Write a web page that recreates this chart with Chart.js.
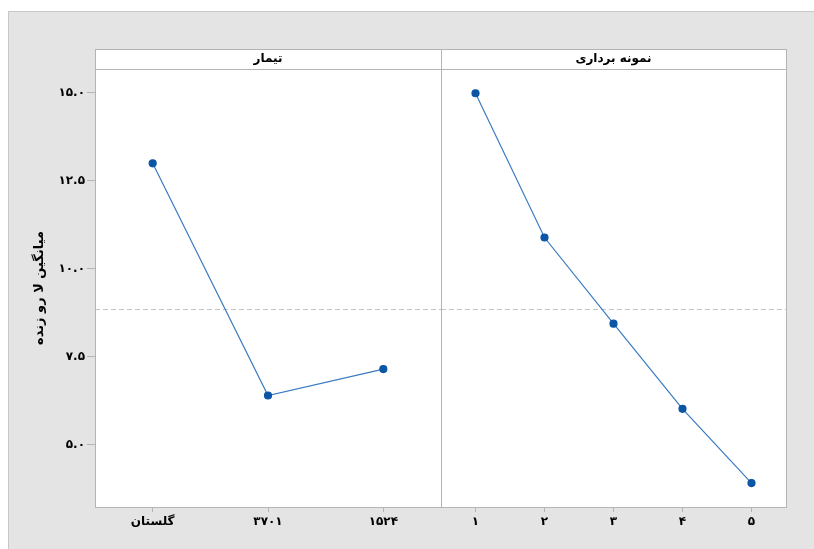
<!DOCTYPE html>
<html>
<head>
<meta charset="utf-8">
<script src="https://cdn.jsdelivr.net/npm/chart.js@4.4.1/dist/chart.umd.min.js"></script>
<style>
    body { margin: 0; background: #ffffff; width: 814px; height: 549px; overflow: hidden; position: relative; }
    #frame { position: absolute; left: 8px; top: 11px; width: 806px; height: 538px; background: #e4e4e4; border-top: 1px solid #c8c8c8; border-left: 1px solid #c8c8c8; box-sizing: border-box; }
    canvas { position: absolute; top: 0; }
    #chartTreatment { left: 0; }
    #chartSampling { left: 440px; }
</style>
</head>
<body>
<div id="frame"></div>
<canvas id="chartTreatment" width="442" height="549"></canvas>
<canvas id="chartSampling" width="374" height="549"></canvas>
<script>
const treatments = ['گلستان', '۳۷۰۱', '۱۵۲۴'];
const treatmentMeans = [12.99, 6.39, 7.14];
const samplings = ['۱', '۲', '۳', '۴', '۵'];
const samplingMeans = [14.98, 10.88, 8.43, 6.01, 3.90];
const grandMean = 8.84;
const yTicks = [5, 7.5, 10, 12.5, 15];
const yTickLabels = ['۵.۰', '۷.۵', '۱۰.۰', '۱۲.۵', '۱۵.۰'];
const yMin = 3.22;
const yMax = 15.67;

const fontFamily = "'DejaVu Sans', sans-serif";
const lineColor = '#3a7bc2';
const pointColor = '#0a55a5';
const frameColor = '#b4b4b4';
const stripHeight = 20;

// white panel, strip header, border and dashed grand mean line
const panelFrame = {
    id: 'panelFrame',
    beforeDraw(chart) {
        const { ctx, chartArea: a } = chart;
        ctx.save();
        ctx.fillStyle = '#ffffff';
        ctx.fillRect(a.left, a.top - stripHeight, a.right - a.left, a.bottom - a.top + stripHeight);
        ctx.restore();
    },
    beforeDatasetsDraw(chart) {
        const { ctx, chartArea: a, scales } = chart;
        const y = Math.round(scales.y.getPixelForValue(grandMean)) + 0.5;
        ctx.save();
        ctx.strokeStyle = '#c4c4c4';
        ctx.lineWidth = 1;
        ctx.setLineDash([5, 3]);
        ctx.beginPath();
        ctx.moveTo(a.left, y);
        ctx.lineTo(a.right, y);
        ctx.stroke();
        ctx.restore();
    },
    afterDraw(chart, args, opts) {
        const { ctx, chartArea: a } = chart;
        const l = Math.round(a.left) + 0.5, r = Math.round(a.right) + 0.5;
        const t = Math.round(a.top) + 0.5, b = Math.round(a.bottom) + 0.5;
        ctx.save();
        ctx.strokeStyle = frameColor;
        ctx.lineWidth = 1;
        ctx.strokeRect(l, t - stripHeight, r - l, b - t + stripHeight);
        ctx.beginPath();
        ctx.moveTo(l, t);
        ctx.lineTo(r, t);
        ctx.stroke();
        ctx.fillStyle = '#000000';
        ctx.font = 'bold 12px ' + fontFamily;
        ctx.textAlign = 'center';
        ctx.textBaseline = 'middle';
        ctx.fillText(opts.label, (a.left + a.right) / 2, a.top - stripHeight / 2);
        ctx.restore();
    }
};

function createPanel(canvasId, label, categories, values, padding, showY) {
    const ctx = document.getElementById(canvasId).getContext('2d');
    return new Chart(ctx, {
        type: 'line',
        data: {
            labels: categories,
            datasets: [{
                data: values,
                borderColor: lineColor,
                borderWidth: 1.2,
                pointBackgroundColor: pointColor,
                pointBorderColor: pointColor,
                pointRadius: 3.5,
                tension: 0
            }]
        },
        options: {
            responsive: false,
            animation: false,
            layout: { padding: padding, autoPadding: false },
            plugins: {
                legend: { display: false },
                tooltip: { enabled: false },
                panelFrame: { label: label }
            },
            scales: {
                x: {
                    offset: true,
                    grid: { display: true, drawOnChartArea: false, drawTicks: true, tickLength: 5, color: frameColor },
                    border: { display: false },
                    ticks: { color: '#000000', padding: 3, maxRotation: 0, font: { family: fontFamily, size: 12, weight: 'bold' } },
                    afterFit(scale) { scale.height = 35; }
                },
                y: {
                    display: showY,
                    min: yMin,
                    max: yMax,
                    grid: { display: true, drawOnChartArea: false, drawTicks: true, tickLength: 8, color: frameColor },
                    border: { display: false },
                    afterBuildTicks(scale) { scale.ticks = yTicks.map(v => ({ value: v })); },
                    ticks: {
                        color: '#000000',
                        padding: 2,
                        font: { family: fontFamily, size: 12, weight: 'bold' },
                        callback: (value) => yTickLabels[yTicks.indexOf(value)]
                    },
                    title: {
                        display: true,
                        text: 'میانگین لا رو زنده',
                        color: '#000000',
                        font: { family: fontFamily, size: 13, weight: 'bold' }
                    },
                    afterFit(scale) { if (showY) scale.width = 67; }
                }
            }
        },
        plugins: [panelFrame]
    });
}

createPanel('chartTreatment', 'تیمار', treatments, treatmentMeans,
    { left: 28, right: 1, top: 69, bottom: 7 }, true);
createPanel('chartSampling', 'نمونه برداری', samplings, samplingMeans,
    { left: 1, right: 28, top: 69, bottom: 7 }, false);
</script>
</body>
</html>
